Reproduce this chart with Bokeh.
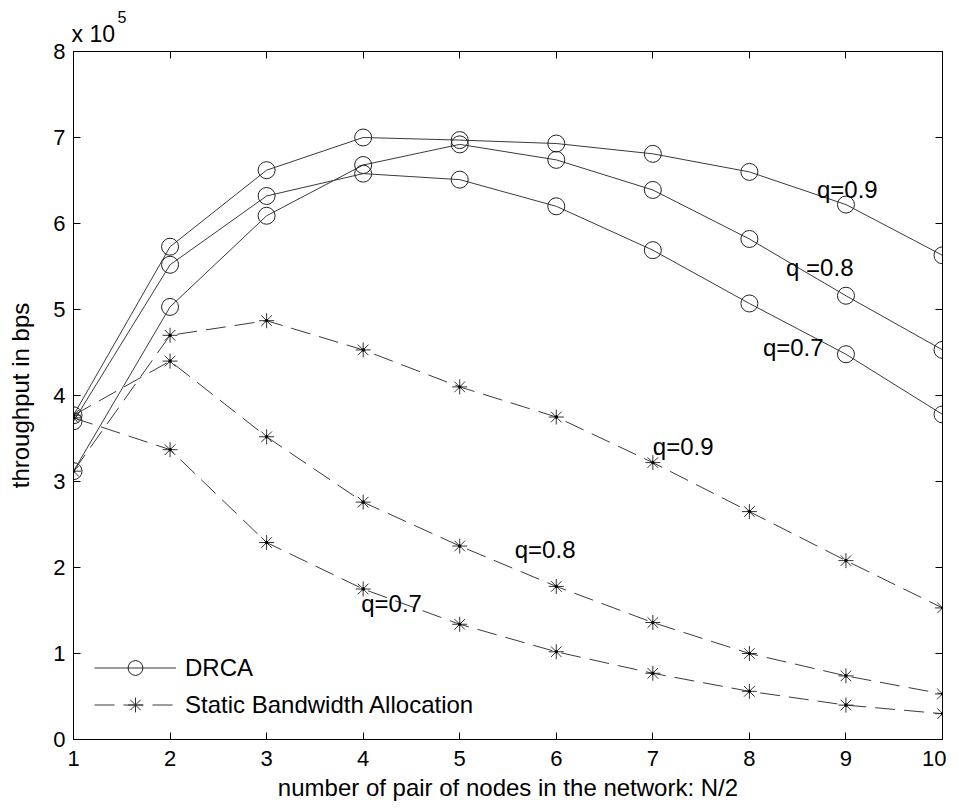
from bokeh.plotting import figure
from bokeh.models import (LinearAxis, FixedTicker, Range1d, Legend, LegendItem, Label, Title)
from bokeh.embed import file_html
from bokeh.resources import INLINE

# ---- data ----
n_pairs = [1, 2, 3, 4, 5, 6, 7, 8, 9, 10]
drca_q09 = [377000, 573000, 662000, 700000, 697000, 693000, 681000, 660000, 622000, 563000]
drca_q08 = [312000, 503000, 609000, 668000, 692000, 674000, 639000, 582000, 516000, 453000]
drca_q07 = [370000, 552000, 632000, 658000, 651000, 620000, 569000, 507000, 448000, 378000]
static_q09 = [312000, 470000, 487000, 453000, 410000, 375000, 322000, 265000, 208000, 153000]
static_q08 = [377000, 440000, 352000, 276000, 225000, 178000, 136000, 100000, 74000, 53000]
static_q07 = [374000, 337000, 229000, 175000, 134000, 102000, 77000, 56000, 40000, 30000]
y_ticks = [0, 100000, 200000, 300000, 400000, 500000, 600000, 700000, 800000]
y_tick_labels = ["0", "1", "2", "3", "4", "5", "6", "7", "8"]
x_ticks = [1, 2, 3, 4, 5, 6, 7, 8, 9, 10]
curve_text = ["q=0.9", "q =0.8", "q=0.7", "q=0.9", "q=0.8", "q=0.7"]
curve_text_x = [8.70, 8.38, 8.14, 7.0, 5.57, 3.98]
curve_text_y = [6.39e5, 5.49e5, 4.56e5, 3.41e5, 2.21e5, 1.58e5]

FONT = "Liberation Sans"
LINE_C = "#3a3a3a"

p = figure(frame_width=869, frame_height=688, output_backend="svg", toolbar_location=None,
           x_range=Range1d(1, 10), y_range=Range1d(0, 800000), title_location=None,
           min_border_left=73, min_border_top=51, min_border_right=4, min_border_bottom=40,
           x_axis_label="number of pair of nodes in the network: N/2",
           y_axis_label="throughput in bps")
p.background_fill_color = "white"
p.border_fill_color = "white"
p.outline_line_color = "black"
p.outline_line_width = 1
p.grid.visible = False

for ax in p.xaxis + p.yaxis:
    ax.major_tick_in = 7
    ax.major_tick_out = 0
    ax.minor_tick_in = 0
    ax.minor_tick_out = 0
    ax.axis_line_color = "black"
    ax.major_tick_line_color = "black"
    ax.major_label_text_font = FONT
    ax.major_label_text_font_size = "22px"
    ax.major_label_text_color = "black"
    ax.axis_label_text_font = FONT
    ax.axis_label_text_font_size = "24px"
    ax.axis_label_text_font_style = "normal"
    ax.axis_label_text_color = "black"

p.xaxis.ticker = FixedTicker(ticks=x_ticks)
p.yaxis.ticker = FixedTicker(ticks=y_ticks)
p.yaxis.major_label_overrides = {t: l for t, l in zip(y_ticks, y_tick_labels)}
p.xaxis.major_label_standoff = 11
p.xaxis.axis_label_standoff = 5
p.yaxis.major_label_standoff = 8
p.yaxis.axis_label_standoff = 16

# tick-only axes on top and right (MATLAB box style), labels not drawn
top_ax = LinearAxis(ticker=FixedTicker(ticks=x_ticks), major_label_text_font_size="1px",
                    major_label_text_color=None,
                    major_tick_in=7, major_tick_out=0, minor_tick_in=0, minor_tick_out=0,
                    major_label_standoff=0)
right_ax = LinearAxis(ticker=FixedTicker(ticks=y_ticks), major_label_text_font_size="1px",
                      major_label_text_color=None,
                      major_tick_in=7, major_tick_out=0, minor_tick_in=0, minor_tick_out=0,
                      major_label_standoff=0)
p.add_layout(top_ax, "above")
p.add_layout(right_ax, "right")

# exponent marker above the y axis
p.add_layout(Title(text="x 10", align="left", offset=-2, standoff=9, text_font=FONT,
                   text_font_size="23px", text_font_style="normal", text_color="black"), "above")
p.add_layout(Title(text="5", align="left", offset=44, standoff=-16, text_font=FONT,
                   text_font_size="16px", text_font_style="normal", text_color="black"), "above")

drca_r = []
for ys in (drca_q09, drca_q08, drca_q07):
    l = p.line(n_pairs, ys, line_color=LINE_C, line_width=1)
    c = p.scatter(n_pairs, ys, marker="circle", size=17, fill_color=None,
                  line_color="#222222", line_width=1)
    drca_r.append((l, c))

static_r = []
for ys in (static_q09, static_q08, static_q07):
    l = p.line(n_pairs, ys, line_color=LINE_C, line_width=1, line_dash="20 9")
    s = p.scatter(n_pairs, ys, marker="asterisk", size=15, line_color="#333333", line_width=1)
    d = p.scatter(n_pairs, ys, marker="circle", size=2.5, fill_color="black", line_color="black")
    static_r.append((l, s, d))

# curve labels
for txt, xx, yy in zip(curve_text, curve_text_x, curve_text_y):
    p.add_layout(Label(x=xx, y=yy, text=txt, text_font=FONT, text_font_size="24px",
                       text_color="black", text_baseline="alphabetic"))

legend = Legend(items=[LegendItem(label="DRCA", renderers=[drca_r[0][0], drca_r[0][1]]),
                       LegendItem(label="Static Bandwidth Allocation",
                                  renderers=[static_r[0][0], static_r[0][1]])],
                location=(21, 16), glyph_width=82, glyph_height=37, label_standoff=9,
                label_text_font=FONT, label_text_font_size="24px", label_height=24,
                label_text_color="black",
                spacing=0, padding=0, margin=0, border_line_color=None,
                background_fill_alpha=0)
p.add_layout(legend, "center")

open("out.html", "w").write(file_html(p, INLINE))
